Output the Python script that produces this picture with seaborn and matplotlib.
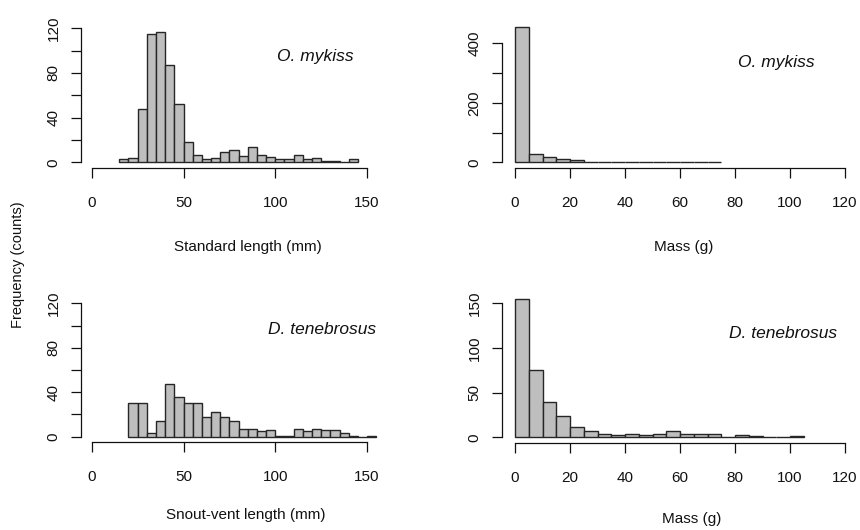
"""
Length and mass frequency histograms for O. mykiss and D. tenebrosus.
R base-graphics look rebuilt with seaborn histplot.
"""

import numpy as np
import pandas as pd
import matplotlib.pyplot as plt
import seaborn as sns

# Bin counts (bin width 5 in every panel)
om_length_start = 15
om_length_counts = [3, 4, 48, 115, 117, 87, 52, 18, 7, 3, 4, 9, 11, 6, 14,
                    7, 5, 3, 3, 7, 3, 4, 1, 1, 0, 3]

om_mass_start = 0
om_mass_counts = [453, 27, 17, 10, 9, 2, 1, 0, 0, 0, 0, 0, 0, 0, 1]

dt_length_start = 20
dt_length_counts = [30, 30, 3, 14, 47, 36, 30, 30, 18, 22, 18, 14, 7, 7, 5,
                    6, 1, 1, 7, 5, 7, 6, 6, 3, 1, 0, 1]

dt_mass_start = 0
dt_mass_counts = [155, 75, 39, 24, 12, 7, 4, 3, 4, 3, 4, 7, 4, 4, 4, 0, 3, 1,
                  0, 0, 1]

BIN_WIDTH = 5

length_xticks = [0, 50, 100, 150]
mass_xticks = [0, 20, 40, 60, 80, 100, 120]
length_yticks = [0, 20, 40, 60, 80, 100, 120]
length_ylabels = ["0", "", "40", "", "80", "", "120"]
om_mass_yticks = [0, 100, 200, 300, 400]
om_mass_ylabels = ["0", "", "200", "", "400"]
dt_mass_yticks = [0, 50, 100, 150]
dt_mass_ylabels = ["0", "50", "100", "150"]

W, H = 860, 530
INK = "#111111"

sns.set_style("white")
plt.rcParams["font.family"] = ["Liberation Sans", "DejaVu Sans"]
plt.rcParams["font.size"] = 11
plt.rcParams["text.color"] = INK
plt.rcParams["axes.labelcolor"] = INK
plt.rcParams["xtick.color"] = INK
plt.rcParams["ytick.color"] = INK


def px_axes(fig, left, right, top, bottom):
    """Axes placed by pixel edges (top-left origin)."""
    return fig.add_axes([left / W, 1 - bottom / H, (right - left) / W,
                         (bottom - top) / H])


def draw_hist(ax, start, counts, xlim, ylim, xticks, yticks, ylabels,
              xlabel, species, species_px, xlabel_px):
    nbins = len(counts)
    mids = start + BIN_WIDTH * (np.arange(nbins) + 0.5)
    binned = pd.DataFrame({"mid": mids, "n": np.asarray(counts, dtype=float)})
    sns.histplot(data=binned, x="mid", weights="n", binwidth=BIN_WIDTH,
                 binrange=(start, start + BIN_WIDTH * nbins), ax=ax,
                 color="#BEBEBE", edgecolor="#262626", linewidth=1.0,
                 alpha=1.0)
    ax.set_xlim(*xlim)
    ax.set_ylim(*ylim)
    ax.set_ylabel("")
    ax.set_xlabel("")

    ax.set_xticks(xticks)
    ax.set_xticklabels([str(t) for t in xticks])
    ax.set_yticks(yticks)
    ax.set_yticklabels(ylabels, rotation=90, va="center")

    for s in ["top", "right"]:
        ax.spines[s].set_visible(False)
    for s in ["left", "bottom"]:
        ax.spines[s].set_color(INK)
        ax.spines[s].set_linewidth(0.9)
    ax.spines["bottom"].set_bounds(xticks[0], xticks[-1])
    ax.spines["left"].set_bounds(yticks[0], yticks[-1])
    ax.tick_params(axis="x", bottom=True, direction="out", length=7.5,
                   width=0.9, pad=13, labelsize=11)
    ax.tick_params(axis="y", left=True, direction="out", length=7.5,
                   width=0.9, pad=7, labelsize=11)
    ax.grid(False)

    # species name and axis title placed in figure pixels
    fig.text(species_px[0] / W, 1 - species_px[1] / H, species,
             style="italic", fontsize=12.5, ha="center", va="center")
    fig.text(xlabel_px[0] / W, 1 - xlabel_px[1] / H, xlabel,
             fontsize=11, ha="center", va="center")


fig = plt.figure(figsize=(W / 100, H / 100), dpi=100)

# top-left: O. mykiss standard length
ax1 = px_axes(fig, 80.7, 378.1, 22.9, 167.7)
draw_hist(ax1, om_length_start, om_length_counts, (-6, 156), (-4.8, 124.8),
          length_xticks, length_yticks, length_ylabels,
          "Standard length (mm)", "O. mykiss", (315, 56), (248, 247))

# top-right: O. mykiss mass
ax2 = px_axes(fig, 501.8, 858.2, 22.1, 167.7)
draw_hist(ax2, om_mass_start, om_mass_counts, (-4.8, 124.8), (-18.1, 471.1),
          mass_xticks, om_mass_yticks, om_mass_ylabels,
          "Mass (g)", "O. mykiss", (776, 62), (684, 247))

# bottom-left: D. tenebrosus snout-vent length
ax3 = px_axes(fig, 80.7, 378.1, 298.0, 442.0)
draw_hist(ax3, dt_length_start, dt_length_counts, (-6, 156), (-4.8, 124.8),
          length_xticks, length_yticks, length_ylabels,
          "Snout-vent length (mm)", "D. tenebrosus", (322, 329), (246, 515))

# bottom-right: D. tenebrosus mass
ax4 = px_axes(fig, 501.8, 858.2, 293.3, 442.8)
draw_hist(ax4, dt_mass_start, dt_mass_counts, (-4.8, 124.8), (-6.2, 161.2),
          mass_xticks, dt_mass_yticks, dt_mass_ylabels,
          "Mass (g)", "D. tenebrosus", (783, 333), (692, 519))

fig.text(18 / W, 1 - 265 / H, "Frequency (counts)", rotation=90,
         ha="center", va="center", fontsize=10.5)

fig.savefig("out.png", dpi=100)
